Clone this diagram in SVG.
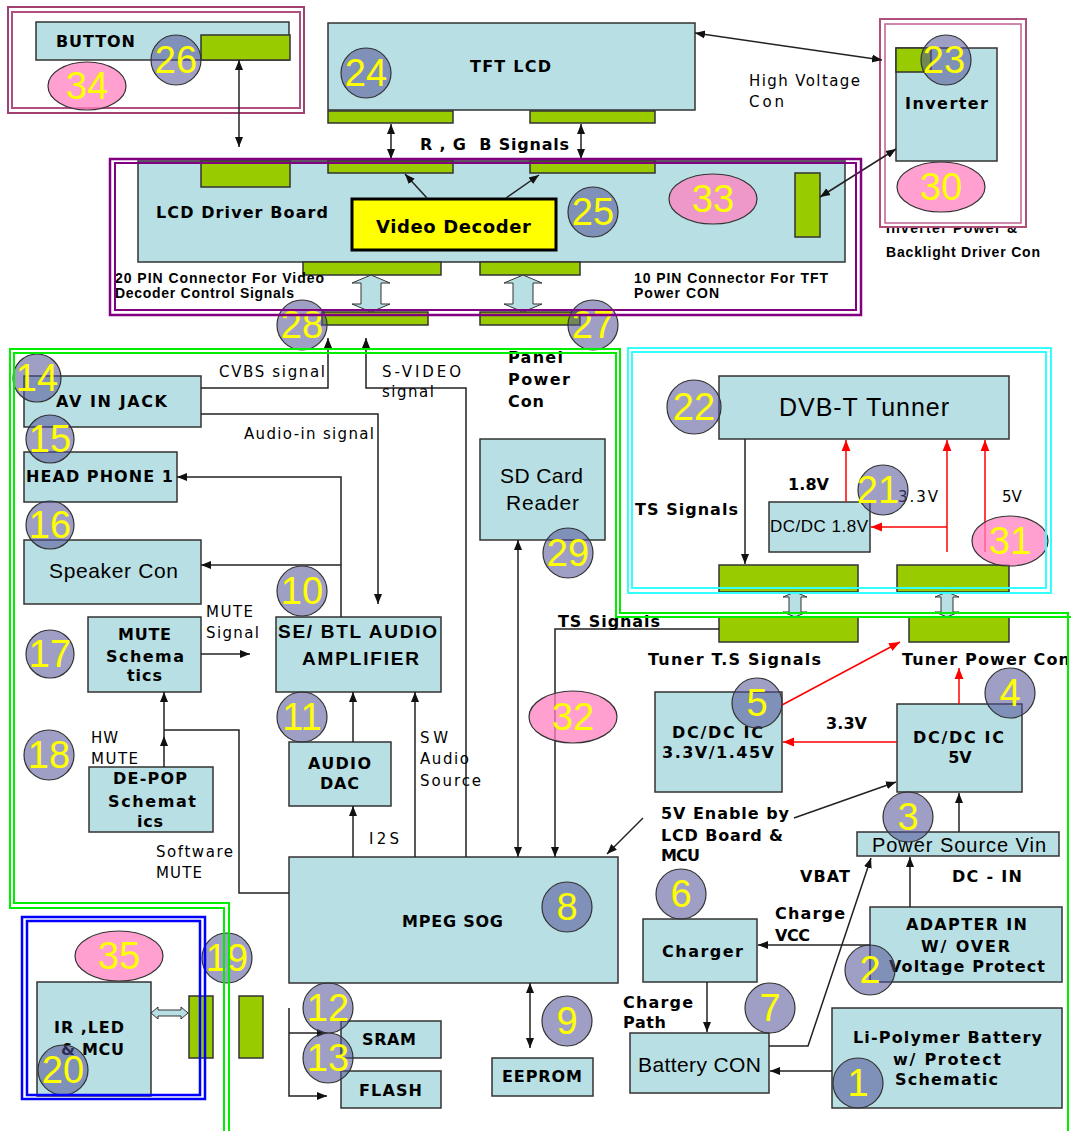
<svg xmlns="http://www.w3.org/2000/svg" width="1071" height="1131" viewBox="0 0 1071 1131">
<style>
.box{fill:#b8dfe3;stroke:#333;stroke-width:1.5}
.con{fill:#99cc00;stroke:#333;stroke-width:1.5}
.bd{fill:#505098;fill-opacity:.55;stroke:#333;stroke-width:1.2}
.pk{fill:#ff80c0;fill-opacity:.75;stroke:#333;stroke-width:1.2}
.num{font-family:"Liberation Sans",Arial,sans-serif;font-size:38px;fill:#ffff00;text-anchor:middle}
.b{font-family:"DejaVu Sans",Verdana,sans-serif;font-weight:bold;font-size:16px;fill:#000}
.r{font-family:"DejaVu Sans",Verdana,sans-serif;font-size:15px;fill:#000}
.a{font-family:"Liberation Sans",Arial,sans-serif;font-size:21px;fill:#000}
.ab{font-family:"Liberation Sans",Arial,sans-serif;font-weight:bold;font-size:14px;fill:#000}
.ln{fill:none;stroke:#222;stroke-width:1.5}
.rd{fill:none;stroke:#f00;stroke-width:1.5}
.ha{fill:#b8dfe3;stroke:#333;stroke-width:1}
.gf{fill:none;stroke:#00ee00;stroke-width:2}
</style>
<defs>
<marker id="ah" viewBox="0 0 10 10" refX="10" refY="5" markerWidth="10" markerHeight="10" markerUnits="userSpaceOnUse" orient="auto-start-reverse"><path d="M0,1 L10,5 L0,9 z" fill="#111"/></marker>
<marker id="rh" viewBox="0 0 10 10" refX="10" refY="5" markerWidth="11" markerHeight="11" markerUnits="userSpaceOnUse" orient="auto-start-reverse"><path d="M0,1 L10,5 L0,9 z" fill="#f00"/></marker>
</defs>
<rect width="1071" height="1131" fill="#fff"/>

<g id="button">
<rect x="8" y="7" width="296" height="106" fill="none" stroke="#a04070" stroke-width="2"/>
<rect x="12" y="12" width="288" height="96" fill="none" stroke="#b05080" stroke-width="2"/>
<rect class="box" x="36" y="22" width="253" height="38"/>
<rect class="con" x="201" y="35" width="89" height="25"/>
<text class="b" x="56" y="47" textLength="79">BUTTON</text>
</g>

<g id="tft-lcd">
<rect class="box" x="328" y="23" width="367" height="87"/>
<rect class="con" x="328" y="111" width="125" height="12"/>
<rect class="con" x="530" y="111" width="125" height="12"/>
<text class="b" x="470" y="72" textLength="81">TFT LCD</text>
</g>

<g id="lcd-driver-board">
<rect class="box" x="138" y="161" width="707" height="101"/>
<rect class="con" x="201" y="161" width="89" height="26"/>
<rect class="con" x="328" y="161" width="125" height="12"/>
<rect class="con" x="530" y="161" width="125" height="12"/>
<rect class="con" x="795" y="173" width="25" height="64"/>
<rect class="con" x="303" y="262" width="138" height="13"/>
<rect class="con" x="480" y="262" width="100" height="13"/>
<text class="b" x="156" y="218" textLength="172">LCD Driver Board</text>
<text class="ab" x="115" y="283" textLength="209">20 PIN Connector For Video</text>
<text class="ab" x="115" y="298" textLength="179">Decoder Control Signals</text>
<text class="ab" x="634" y="283" textLength="194">10 PIN Connector For TFT</text>
<text class="ab" x="634" y="298" textLength="85">Power CON</text>
<rect class="con" x="322" y="312" width="106" height="13"/>
<rect class="con" x="480" y="312" width="100" height="13"/>
<polygon class="ha" points="371,275 390,283 381,283 381,304 390,304 371,312 352,304 361,304 361,283 352,283"/>
<polygon class="ha" points="523,275 542,283 533,283 533,304 542,304 523,312 504,304 513,304 513,283 504,283"/>
</g>

<g id="video-decoder">
<rect x="352" y="199" width="204" height="51" fill="#ffff00" stroke="#000" stroke-width="3"/>
<text x="376" y="233" textLength="155" style="font-family:'DejaVu Sans',Verdana,sans-serif;font-weight:bold;font-size:18px">Video Decoder</text>
</g>

<g id="inverter">
<text class="ab" x="886" y="233" textLength="131">Inverter Power &amp;</text>
<text class="ab" x="886" y="257" textLength="154">Backlight Driver Con</text>
<rect x="880" y="19" width="146" height="208" fill="#fff" stroke="#b0507a" stroke-width="2"/>
<rect x="885" y="24" width="136" height="199" fill="none" stroke="#c06090" stroke-width="1.5"/>
<rect class="box" x="896" y="48" width="101" height="113"/>
<rect class="con" x="896" y="48" width="35" height="24"/>
<text class="b" x="905" y="109" textLength="83">Inverter</text>
</g>

<g id="av-in-jack">
<rect class="box" x="24" y="376" width="177" height="51"/>
<text class="b" x="56" y="407" textLength="111">AV IN JACK</text>
</g>
<g id="head-phone">
<rect class="box" x="24" y="452" width="153" height="50"/>
<text class="b" x="26" y="482" textLength="147">HEAD PHONE 1</text>
</g>
<g id="speaker-con">
<rect class="box" x="24" y="540" width="177" height="64"/>
<text class="a" x="49" y="578" textLength="129">Speaker Con</text>
</g>
<g id="mute-schematics">
<rect class="box" x="88" y="617" width="113" height="75"/>
<text class="b" x="118" y="640" textLength="53">MUTE</text>
<text class="b" x="106" y="662" textLength="78">Schema</text>
<text class="b" x="127" y="681" textLength="35">tics</text>
</g>
<g id="amplifier">
<rect class="box" x="276" y="617" width="165" height="75"/>
<text x="278" y="638" textLength="159" style="font-family:'Liberation Sans',Arial,sans-serif;font-weight:bold;font-size:19px">SE/ BTL AUDIO</text>
<text x="302" y="665" textLength="117" style="font-family:'Liberation Sans',Arial,sans-serif;font-weight:bold;font-size:19px">AMPLIFIER</text>
</g>
<g id="sd-card">
<rect class="box" x="480" y="439" width="125" height="101"/>
<text class="a" x="500" y="483" textLength="83">SD Card</text>
<text class="a" x="506" y="510" textLength="73">Reader</text>
</g>
<g id="de-pop">
<rect class="box" x="89" y="767" width="124" height="65"/>
<text class="b" x="113" y="784" textLength="74">DE-POP</text>
<text class="b" x="108" y="807" textLength="88">Schemat</text>
<text class="b" x="137" y="827" textLength="26">ics</text>
</g>
<g id="audio-dac">
<rect class="box" x="289" y="742" width="102" height="64"/>
<text class="b" x="308" y="769" textLength="63">AUDIO</text>
<text class="b" x="320" y="789" textLength="39">DAC</text>
</g>
<g id="mpeg-sog">
<rect class="box" x="289" y="857" width="329" height="126"/>
<text class="b" x="402" y="927" textLength="101">MPEG SOG</text>
</g>
<g id="ir-led-mcu">
<rect class="box" x="37" y="982" width="114" height="114"/>
<text class="b" x="54" y="1033" textLength="70">IR ,LED</text>
<text class="b" x="61" y="1055" textLength="63">&amp; MCU</text>
<polygon class="ha" points="151,1013 158,1007 158,1010 181,1010 181,1007 188,1013 181,1019 181,1016 158,1016 158,1019"/>
<rect class="con" x="189" y="996" width="24" height="62"/>
</g>
<g id="ext-connector">
<rect class="con" x="239" y="996" width="24" height="62"/>
</g>
<g id="sram">
<rect class="box" x="341" y="1021" width="100" height="37"/>
<text class="b" x="362" y="1045" textLength="54">SRAM</text>
</g>
<g id="flash">
<rect class="box" x="341" y="1071" width="100" height="37"/>
<text class="b" x="359" y="1096" textLength="63">FLASH</text>
</g>
<g id="eeprom">
<rect class="box" x="492" y="1058" width="101" height="38"/>
<text class="b" x="502" y="1082" textLength="80">EEPROM</text>
</g>

<g id="dvb-t-tuner">
<rect class="box" x="719" y="376" width="290" height="63"/>
<text x="779" y="416" textLength="170" style="font-family:'Liberation Sans',Arial,sans-serif;font-size:25px">DVB-T Tunner</text>
<rect class="con" x="719" y="565" width="139" height="27"/>
<rect class="con" x="897" y="565" width="112" height="27"/>
</g>
<g id="dcdc-18">
<rect class="box" x="769" y="502" width="101" height="50"/>
<text x="770" y="532" textLength="98" style="font-family:'Liberation Sans',Arial,sans-serif;font-size:17px">DC/DC 1.8V</text>
</g>
<g id="tuner-connectors">
<polygon class="ha" points="795,592 807,597 801,597 801,612 807,612 795,617 783,612 789,612 789,597 783,597"/>
<polygon class="ha" points="947,592 959,597 953,597 953,612 959,612 947,617 935,612 941,612 941,597 935,597"/>
<rect class="con" x="719" y="617" width="139" height="25"/>
<rect class="con" x="909" y="617" width="100" height="25"/>
<text class="b" x="648" y="665" textLength="173">Tuner T.S Signals</text>
<text class="b" x="902" y="665" textLength="168">Tuner Power Con</text>
</g>
<g id="dcdc-33">
<rect class="box" x="655" y="692" width="127" height="100"/>
<text class="b" x="672" y="738" textLength="91">DC/DC IC</text>
<text class="b" x="662" y="758" textLength="112">3.3V/1.45V</text>
</g>
<g id="dcdc-5v">
<rect class="box" x="897" y="704" width="125" height="88"/>
<text class="b" x="913" y="743" textLength="91">DC/DC IC</text>
<text class="b" x="960" y="763" text-anchor="middle">5V</text>
</g>
<g id="power-source">
<rect class="box" x="857" y="832" width="202" height="24"/>
<text x="872" y="852" textLength="174" style="font-family:'Liberation Sans',Arial,sans-serif;font-size:20px">Power Source Vin</text>
</g>
<g id="adapter-in">
<rect class="box" x="870" y="907" width="192" height="75"/>
<text class="b" x="906" y="930" textLength="121">ADAPTER IN</text>
<text class="b" x="921" y="952" textLength="89">W/ OVER</text>
<text class="b" x="889" y="972" textLength="156">Voltage Protect</text>
</g>
<g id="charger">
<rect class="box" x="643" y="919" width="114" height="63"/>
<text class="b" x="662" y="957" textLength="81">Charger</text>
</g>
<g id="battery-con">
<rect class="box" x="630" y="1033" width="139" height="60"/>
<text class="a" x="638" y="1072" textLength="123">Battery CON</text>
</g>
<g id="li-polymer">
<rect class="box" x="832" y="1008" width="230" height="100"/>
<text class="b" x="853" y="1043" textLength="189">Li-Polymer Battery</text>
<text class="b" x="893" y="1065" textLength="108">w/ Protect</text>
<text class="b" x="895" y="1085" textLength="103">Schematic</text>
</g>

<g id="connectors">
<path class="ln" d="M239,60 V147" marker-start="url(#ah)" marker-end="url(#ah)"/>
<path class="ln" d="M391,124 V159" marker-start="url(#ah)" marker-end="url(#ah)"/>
<path class="ln" d="M581,124 V159" marker-start="url(#ah)" marker-end="url(#ah)"/>
<path class="ln" d="M427,198 L405,174" marker-end="url(#ah)"/>
<path class="ln" d="M506,198 L539,175" marker-end="url(#ah)"/>
<path class="ln" d="M695,33 L882,60" marker-start="url(#ah)" marker-end="url(#ah)"/>
<path class="ln" d="M820,197 L896,149" marker-start="url(#ah)" marker-end="url(#ah)"/>
<path class="ln" d="M201,388 H328 V338" marker-end="url(#ah)"/>
<path class="ln" d="M466,857 V388 H366 V338" marker-end="url(#ah)"/>
<path class="ln" d="M201,414 H378 V604" marker-end="url(#ah)"/>
<path class="ln" d="M341,617 V477 H177" marker-end="url(#ah)"/>
<path class="ln" d="M341,565 H201" marker-end="url(#ah)"/>
<path class="ln" d="M201,654 H250" marker-end="url(#ah)"/>
<path class="ln" d="M353,742 V692" marker-end="url(#ah)"/>
<path class="ln" d="M353,857 V806" marker-end="url(#ah)"/>
<path class="ln" d="M415,857 V692" marker-end="url(#ah)"/>
<path class="ln" d="M164,767 V736" marker-end="url(#ah)"/>
<path class="ln" d="M164,736 V692" marker-end="url(#ah)"/>
<path class="ln" d="M289,893 H239 V730 H164"/>
<path class="ln" d="M518,540 V857" marker-start="url(#ah)" marker-end="url(#ah)"/>
<path class="ln" d="M719,629 H555 V857" marker-end="url(#ah)"/>
<path class="ln" d="M643,818 L607,854" marker-end="url(#ah)"/>
<path class="ln" d="M794,818 L896,782" marker-end="url(#ah)"/>
<path class="ln" d="M530,983 V1048" marker-start="url(#ah)" marker-end="url(#ah)"/>
<path class="ln" d="M289,1008 V1096 H327" marker-end="url(#ah)"/>
<path class="ln" d="M289,1033 H327" marker-end="url(#ah)"/>
<path class="ln" d="M745,439 V564" marker-end="url(#ah)"/>
<path class="rd" d="M846,502 V440" marker-end="url(#rh)"/>
<path class="rd" d="M947,552 V440" marker-end="url(#rh)"/>
<path class="rd" d="M947,527 H871" marker-end="url(#rh)"/>
<path class="rd" d="M985,552 V440" marker-end="url(#rh)"/>
<path class="rd" d="M782,705 L900,642" marker-end="url(#rh)"/>
<path class="rd" d="M959,704 V668" marker-end="url(#rh)"/>
<path class="rd" d="M897,742 H783" marker-end="url(#rh)"/>
<path class="ln" d="M959,832 V793" marker-end="url(#ah)"/>
<path class="ln" d="M910,907 V857" marker-end="url(#ah)"/>
<path class="ln" d="M769,1046 H808 L871,858" marker-end="url(#ah)"/>
<path class="ln" d="M870,945 H758" marker-end="url(#ah)"/>
<path class="ln" d="M707,982 V1032" marker-end="url(#ah)"/>
<path class="ln" d="M832,1071 H770" marker-end="url(#ah)"/>
</g>

<g id="labels">
<text class="b" x="420" y="150" textLength="149" xml:space="preserve">R , G  B Signals</text>
<text class="r" x="749" y="86" textLength="111">High Voltage</text>
<text class="r" x="749" y="107" textLength="35">Con</text>
<text class="r" x="219" y="377" textLength="106">CVBS signal</text>
<text class="r" x="382" y="377" textLength="79">S-VIDEO</text>
<text class="r" x="382" y="397" textLength="52">signal</text>
<text class="b" x="508" y="363" textLength="55">Panel</text>
<text class="b" x="508" y="385" textLength="62">Power</text>
<text class="b" x="508" y="407" textLength="36">Con</text>
<text class="r" x="244" y="439" textLength="130">Audio-in signal</text>
<text class="r" x="206" y="617" textLength="47">MUTE</text>
<text class="r" x="206" y="638" textLength="53">Signal</text>
<text class="r" x="91" y="743" textLength="27">HW</text>
<text class="r" x="91" y="764" textLength="47">MUTE</text>
<text class="r" x="156" y="857" textLength="77">Software</text>
<text class="r" x="156" y="878" textLength="46">MUTE</text>
<text class="r" x="369" y="844" textLength="30">I2S</text>
<text class="r" x="420" y="743" textLength="28">SW</text>
<text class="r" x="420" y="764" textLength="49">Audio</text>
<text class="r" x="420" y="786" textLength="61">Source</text>
<text class="b" x="558" y="627" textLength="102">TS Signals</text>
<text class="b" x="635" y="515" textLength="103">TS Signals</text>
<text class="b" x="788" y="490" textLength="41">1.8V</text>
<text class="r" x="898" y="502" textLength="40">3.3V</text>
<text class="r" x="1002" y="502">5V</text>
<text class="b" x="826" y="729" textLength="41">3.3V</text>
<text class="b" x="661" y="819" textLength="128">5V Enable by</text>
<text class="b" x="661" y="841" textLength="122">LCD Board &amp;</text>
<text class="b" x="661" y="861" textLength="39">MCU</text>
<text class="b" x="800" y="882" textLength="50">VBAT</text>
<text class="b" x="952" y="882" textLength="70">DC - IN</text>
<text class="b" x="775" y="919" textLength="70">Charge</text>
<text class="b" x="775" y="941" textLength="35">VCC</text>
<text class="b" x="623" y="1008" textLength="70">Charge</text>
<text class="b" x="623" y="1028" textLength="43">Path</text>
</g>

<g id="badges">
<circle class="bd" cx="176" cy="60" r="25"/><text class="num" x="176" y="73">26</text>
<ellipse class="pk" cx="87" cy="86" rx="39" ry="24"/><text class="num" x="87" y="99">34</text>
<circle class="bd" cx="366" cy="73" r="25"/><text class="num" x="366" y="86">24</text>
<circle class="bd" cx="946" cy="60" r="25"/><text class="num" x="944" y="73">23</text>
<ellipse class="pk" cx="941" cy="187" rx="44" ry="25"/><text class="num" x="941" y="200">30</text>
<circle class="bd" cx="593" cy="212" r="25"/><text class="num" x="593" y="225">25</text>
<ellipse class="pk" cx="713" cy="199" rx="44" ry="25"/><text class="num" x="713" y="212">33</text>
<circle class="bd" cx="302" cy="325" r="25"/><text class="num" x="302" y="338">28</text>
<circle class="bd" cx="593" cy="325" r="25"/><text class="num" x="593" y="338">27</text>
<circle class="bd" cx="37" cy="378" r="24"/><text class="num" x="37" y="391">14</text>
<circle class="bd" cx="50" cy="439" r="24"/><text class="num" x="50" y="452">15</text>
<circle class="bd" cx="50" cy="525" r="24"/><text class="num" x="50" y="538">16</text>
<circle class="bd" cx="50" cy="654" r="24"/><text class="num" x="50" y="667">17</text>
<circle class="bd" cx="49" cy="755" r="25"/><text class="num" x="49" y="768">18</text>
<circle class="bd" cx="302" cy="591" r="25"/><text class="num" x="302" y="604">10</text>
<circle class="bd" cx="302" cy="717" r="25"/><text class="num" x="302" y="730">11</text>
<circle class="bd" cx="568" cy="553" r="25"/><text class="num" x="568" y="566">29</text>
<ellipse class="pk" cx="573" cy="717" rx="44" ry="26"/><text class="num" x="573" y="730">32</text>
<circle class="bd" cx="694" cy="407" r="27"/><text class="num" x="694" y="420">22</text>
<circle class="bd" cx="883" cy="490" r="25"/><text class="num" x="878" y="503">21</text>
<ellipse class="pk" cx="1010" cy="541" rx="38" ry="25"/><text class="num" x="1010" y="554">31</text>
<circle class="bd" cx="757" cy="703" r="25"/><text class="num" x="757" y="716">5</text>
<circle class="bd" cx="1010" cy="693" r="25"/><text class="num" x="1010" y="706">4</text>
<circle class="bd" cx="908" cy="817" r="25"/><text class="num" x="908" y="830">3</text>
<circle class="bd" cx="681" cy="894" r="25"/><text class="num" x="681" y="907">6</text>
<circle class="bd" cx="870" cy="970" r="25"/><text class="num" x="870" y="983">2</text>
<circle class="bd" cx="770" cy="1008" r="25"/><text class="num" x="770" y="1021">7</text>
<circle class="bd" cx="858" cy="1083" r="25"/><text class="num" x="858" y="1096">1</text>
<circle class="bd" cx="567" cy="907" r="25"/><text class="num" x="567" y="920">8</text>
<circle class="bd" cx="567" cy="1021" r="25"/><text class="num" x="567" y="1034">9</text>
<circle class="bd" cx="328" cy="1008" r="25"/><text class="num" x="328" y="1021">12</text>
<circle class="bd" cx="328" cy="1058" r="25"/><text class="num" x="328" y="1071">13</text>
<circle class="bd" cx="227" cy="958" r="25"/><text class="num" x="227" y="971">19</text>
<circle class="bd" cx="63" cy="1070" r="25"/><text class="num" x="63" y="1083">20</text>
<ellipse class="pk" cx="119" cy="956" rx="44" ry="25"/><text class="num" x="119" y="969">35</text>
</g>

<g id="frames">
<rect x="110" y="159" width="751" height="156" fill="none" stroke="#800080" stroke-width="2.5"/>
<rect x="115" y="163" width="741" height="147" fill="none" stroke="#800080" stroke-width="2"/>
<path class="gf" d="M224,1131 V908 H10 V349 H620 V613 H1068 V1131"/>
<path class="gf" d="M229,1131 V903 H14 V353 H616 V617 H1071"/>
<rect x="628" y="348" width="423" height="245" fill="none" stroke="#33ffff" stroke-width="2"/>
<rect x="632" y="352" width="414" height="236" fill="none" stroke="#33ffff" stroke-width="2"/>
<rect x="22" y="917" width="183" height="182" fill="none" stroke="#0000ff" stroke-width="2.5"/>
<rect x="27" y="921" width="173" height="174" fill="none" stroke="#0000ff" stroke-width="2.5"/>
</g>
</svg>
